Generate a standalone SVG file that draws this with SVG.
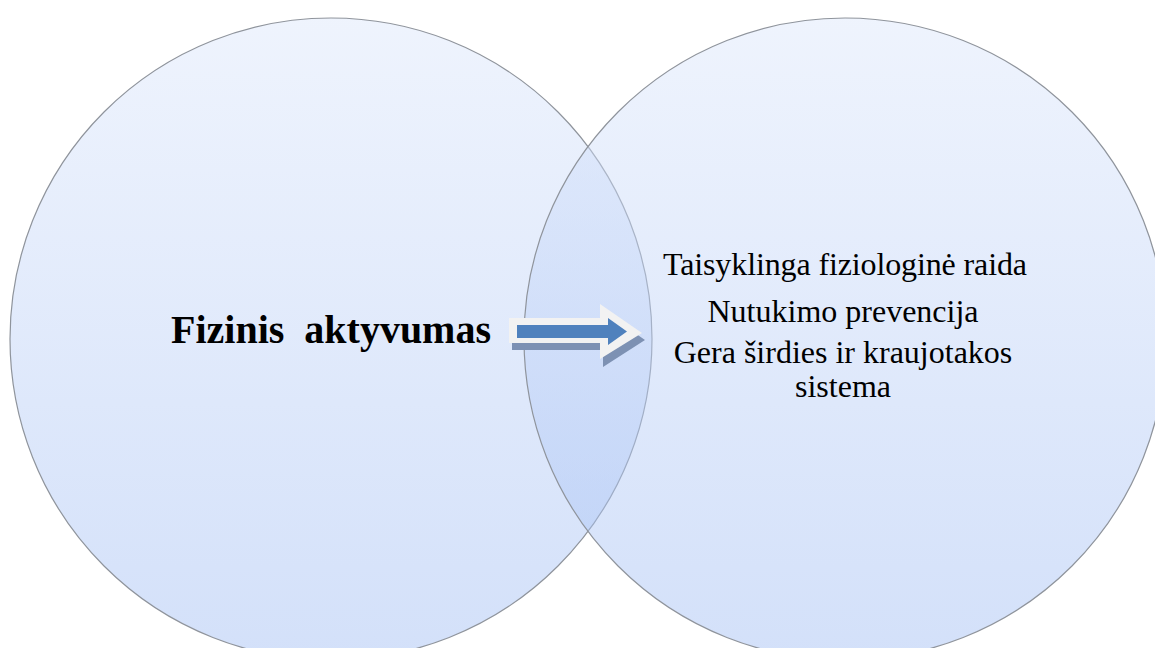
<svg xmlns="http://www.w3.org/2000/svg" width="1155" height="648" viewBox="0 0 1155 648">
<defs>
<linearGradient id="g" x1="0" y1="0" x2="0" y2="1">
<stop offset="0" stop-color="#dbe6fb"/>
<stop offset="1" stop-color="#9fbcf3"/>
</linearGradient>
<style>
.c{fill:url(#g);fill-opacity:0.46;stroke:#8f949c;stroke-width:1.2}
.t{font-family:"Liberation Serif","Times New Roman",serif;fill:#000;text-anchor:middle;white-space:pre}
</style>
</defs>
<rect width="1155" height="648" fill="#fff"/>
<g id="left-circle">
<circle class="c" cx="331" cy="339" r="321"/>
</g>
<g id="right-circle">
<circle class="c" cx="845" cy="339" r="321"/>
</g>
<g id="left-label">
<text class="t" x="331" y="343" font-size="40" font-weight="bold">Fizinis  aktyvumas</text>
</g>
<g id="connectors">
<polygon points="512,325 603,325 603,311 645,340 603,367 603,350 512,350" fill="#7d91b3"/>
<polygon points="509,318 600,318 600,304 642,333 600,359 600,343 509,343" fill="#f2f2f2"/>
<polygon points="517,325 608,325 608,318 627,331.5 608,345 608,338 517,338" fill="#4f81bd"/>
</g>
<g id="right-label" class="t" font-size="32">
<text x="845" y="275" textLength="364" lengthAdjust="spacing">Taisyklinga  fiziologinė raida</text>
<text x="843" y="322">Nutukimo prevencija</text>
<text x="843" y="363">Gera širdies ir kraujotakos</text>
<text x="843" y="397">sistema</text>
</g>
</svg>
